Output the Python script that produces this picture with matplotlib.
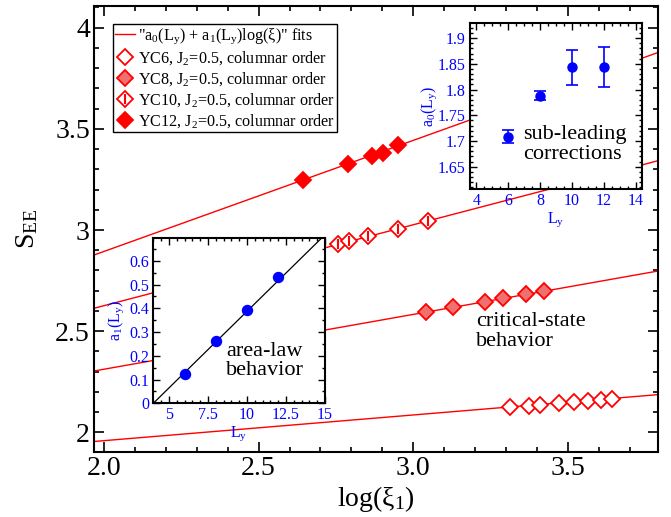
import numpy as np
import matplotlib
matplotlib.use("Agg")
import matplotlib.pyplot as plt
from matplotlib.ticker import MultipleLocator, FuncFormatter

plt.rcParams["font.family"] = ["Liberation Serif", "DejaVu Serif"]
plt.rcParams["mathtext.fontset"] = "custom"
plt.rcParams["mathtext.rm"] = "Liberation Serif"
plt.rcParams["mathtext.default"] = "regular"

# %% data
# main panel: entanglement entropy vs log(xi_1)
yc6_x = [3.313, 3.373, 3.410, 3.471, 3.520, 3.564, 3.607, 3.641]
yc6_y = [2.123, 2.131, 2.136, 2.144, 2.150, 2.156, 2.162, 2.167]
yc8_x = [3.041, 3.127, 3.232, 3.289, 3.364, 3.423]
yc8_y = [2.594, 2.622, 2.645, 2.663, 2.683, 2.698]
yc10_x = [2.758, 2.793, 2.855, 2.952, 3.046]
yc10_y = [2.929, 2.944, 2.972, 3.007, 3.045]
yc12_x = [2.642, 2.790, 2.865, 2.903, 2.952]
yc12_y = [3.246, 3.324, 3.365, 3.383, 3.419]

# straight-line fits S = a0 + a1 * log(xi) drawn in the main panel (YC6, YC8, YC10, YC12)
fit_a0 = [1.705, 1.770, 1.826, 1.796]
fit_a1 = [0.127, 0.271, 0.400, 0.549]

# insets
Ly = [6, 8, 10, 12]
a1_vals = [0.124, 0.261, 0.392, 0.530]
a1_err = [0.008, 0.008, 0.015, 0.015]
a1_line_L = [4, 15]
a1_line_v = [0.0, 0.71]
a0_vals = [1.7085, 1.788, 1.843, 1.8435]
a0_err = [0.012, 0.009, 0.034, 0.039]

xlim = (1.968, 3.791)
ylim = (1.903, 4.107)

red = "#ff0000"
blue = "#0000ff"
fmt_g = FuncFormatter(lambda v, p: "%g" % v)

fig = plt.figure(figsize=(6.71, 5.17), dpi=100)
ax = fig.add_axes([94 / 671, 65 / 517, 564 / 671, 446 / 517])

xx = np.array(xlim)
for i in range(4):
    ax.plot(xx, fit_a0[i] + fit_a1[i] * xx, color=red, lw=1.0, zorder=2)

ms = 8.6
h6, = ax.plot(yc6_x, yc6_y, "D", ms=ms, mfc="white", mec=red, mew=1.3, ls="none", zorder=3)
h8, = ax.plot(yc8_x, yc8_y, "D", ms=ms, mfc="#f07070", mec=red, mew=1.3, ls="none", zorder=3)
h10a, = ax.plot(yc10_x, yc10_y, "D", ms=ms, mfc="white", mec=red, mew=1.3, ls="none", zorder=3)
h10b, = ax.plot(yc10_x, yc10_y, "|", ms=7, mec=red, mew=1.5, ls="none", zorder=4)
h12, = ax.plot(yc12_x, yc12_y, "D", ms=ms, mfc=red, mec=red, mew=1.3, ls="none", zorder=3)
hline, = ax.plot([], [], color=red, lw=1.0)

ax.set_xlim(xlim)
ax.set_ylim(ylim)
ax.xaxis.set_major_locator(MultipleLocator(0.5))
ax.xaxis.set_minor_locator(MultipleLocator(0.1))
ax.yaxis.set_major_locator(MultipleLocator(0.5))
ax.yaxis.set_minor_locator(MultipleLocator(0.1))
ax.xaxis.set_major_formatter(FuncFormatter(lambda v, p: "%.1f" % v))
ax.yaxis.set_major_formatter(fmt_g)
ax.tick_params(which="both", direction="in", top=True, right=True, width=1.2, labelsize=20)
ax.tick_params(which="major", length=7, pad=3)
ax.tick_params(which="minor", length=3.6)
for s in ax.spines.values():
    s.set_linewidth(1.5)
ax.set_xlabel(r"log($\xi_1$)", fontsize=20, labelpad=2)
ax.set_ylabel(r"S$_{EE}$", fontsize=20, labelpad=11)

leg = ax.legend([hline, h6, h8, (h10a, h10b), h12],
                ['"a$_0$(L$_y$) + a$_1$(L$_y$)log(\u03be)" fits',
                 "YC6, J$_2$=0.5, columnar order",
                 "YC8, J$_2$=0.5, columnar order",
                 "YC10, J$_2$=0.5, columnar order",
                 "YC12, J$_2$=0.5, columnar order"],
                loc="upper left", bbox_to_anchor=(0.033, 0.96), borderaxespad=0,
                fontsize=11.6, numpoints=1, handlelength=1.25, handletextpad=0.15,
                labelspacing=0.2, borderpad=0.15, fancybox=False, framealpha=1)
leg.get_frame().set_edgecolor("black")
leg.get_frame().set_linewidth(1.0)

ax.text(0.677, 0.314, "critical-state\nbehavior", transform=ax.transAxes,
        fontsize=16, ha="left", va="top", linespacing=1.05)

# inset: a1(Ly)
ax1 = fig.add_axes([153.3 / 671, 113.7 / 517, 171.7 / 671, 165 / 517])
ax1.plot(a1_line_L, a1_line_v, color="black", lw=0.9)
ax1.errorbar(Ly, a1_vals, yerr=a1_err, fmt="o", ms=7.2, color=blue, capsize=2.5,
             elinewidth=1.2, capthick=1.2)
ax1.set_xlim(4, 15)
ax1.set_ylim(0, 0.695)
ax1.xaxis.set_major_locator(MultipleLocator(2.5))
ax1.xaxis.set_minor_locator(MultipleLocator(0.5))
ax1.yaxis.set_major_locator(MultipleLocator(0.1))
ax1.yaxis.set_minor_locator(MultipleLocator(0.05))
ax1.xaxis.set_major_formatter(fmt_g)
ax1.yaxis.set_major_formatter(fmt_g)
ax1.tick_params(which="both", direction="in", top=True, right=True, width=1.0,
                labelsize=11.5, labelcolor=blue, pad=3)
ax1.tick_params(which="major", length=5)
ax1.tick_params(which="minor", length=2.5)
for s in ax1.spines.values():
    s.set_linewidth(1.5)
ax1.set_xlabel("L$_y$", fontsize=11.5, color=blue, labelpad=1)
ax1.set_ylabel("a$_1$(L$_y$)", fontsize=11.5, color=blue, labelpad=2)
ax1.text(0.423, 0.373, "area-law\nbehavior", transform=ax1.transAxes,
         fontsize=16, ha="left", va="top", linespacing=1.05)

# inset: a0(Ly)
ax2 = fig.add_axes([470 / 671, 327.7 / 517, 172.3 / 671, 166 / 517])
ax2.errorbar(Ly, a0_vals, yerr=a0_err, fmt="o", ms=6.5, color=blue, capsize=4.3,
             elinewidth=1.2, capthick=1.2)
ax2.set_xlim(3.6, 14.4)
ax2.set_ylim(1.606, 1.929)
ax2.xaxis.set_major_locator(MultipleLocator(2))
ax2.xaxis.set_minor_locator(MultipleLocator(0.5))
ax2.yaxis.set_major_locator(MultipleLocator(0.05))
ax2.yaxis.set_minor_locator(MultipleLocator(0.01))
ax2.xaxis.set_major_formatter(fmt_g)
ax2.yaxis.set_major_formatter(fmt_g)
ax2.tick_params(which="both", direction="in", top=True, right=True, width=1.0,
                labelsize=11.5, labelcolor=blue, pad=3)
ax2.tick_params(which="major", length=5)
ax2.tick_params(which="minor", length=2.5)
for s in ax2.spines.values():
    s.set_linewidth(1.5)
ax2.set_xlabel("L$_y$", fontsize=11.5, color=blue, labelpad=1)
ax2.set_ylabel("a$_0$(L$_y$)", fontsize=11.5, color=blue, labelpad=-1)
ax2.text(0.309, 0.387, "sub-leading\ncorrections", transform=ax2.transAxes,
         fontsize=16, ha="left", va="top", linespacing=1.05)

fig.savefig("out.png", dpi=100)
